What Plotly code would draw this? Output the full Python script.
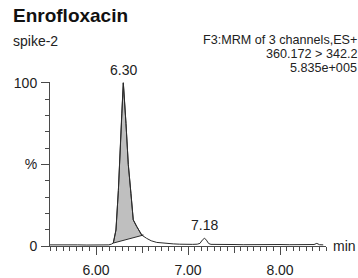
import plotly.graph_objects as go

# ---- data ----
# main chromatogram trace: retention time (min) and relative intensity (%)
time_min = [5.50, 5.60, 5.70, 5.80, 5.90, 6.00, 6.08, 6.14, 6.17, 6.188,
            6.217, 6.243, 6.28, 6.297, 6.326, 6.351, 6.38, 6.405, 6.442,
            6.497, 6.55, 6.60, 6.66, 6.72, 6.77, 6.84, 6.91, 6.98, 7.05,
            7.10, 7.13, 7.155, 7.18, 7.20, 7.225, 7.25, 7.30, 7.40, 7.50,
            7.60, 7.70, 7.80, 7.90, 8.00, 8.10, 8.20, 8.30, 8.37, 8.40,
            8.43, 8.47]
intensity = [0.7, 0.8, 0.6, 0.7, 0.6, 0.7, 0.6, 0.7, 1.2, 1.8,
             9.8, 34, 81, 100, 75, 50, 32, 16, 12,
             6.7, 4.7, 3.2, 2.2, 1.8, 1.6, 1.3, 1.1, 0.9, 1.0,
             1.1, 1.6, 3.6, 4.8, 3.6, 1.5, 1.0, 0.9, 0.8, 0.9,
             0.8, 0.9, 0.8, 0.8, 0.9, 0.8, 0.9, 0.8, 0.9, 1.6,
             0.8, 0.7]

# integrated peak area (6.30) and its drop baseline
area_start, area_end = 6.188, 6.514
area_base_y = [1.8, 6.7]

peak_labels = ["6.30", "7.18"]
peak_times = [6.297, 7.18]

x_tickvals = [6.0, 7.0, 8.0]
x_ticktext = ["6.00", "7.00", "8.00"]
x_midticks = [6.5, 7.5]
y_tickvals = [0, 50, 100]
y_ticktext = ["0", "%", "100"]

title_text = "Enrofloxacin"
sample_text = "spike-2"
info_lines = ["F3:MRM of 3 channels,ES+", "360.172 > 342.2", "5.835e+005"]

# ---- figure ----
FONT = "Liberation Sans, Arial, sans-serif"
LINE = "#2b2b2b"
AX = "#4a4a4a"

W, H = 358, 278
PL, PR, PT, PB = 50, 326, 82, 246          # plot rect in pixels

fig = go.Figure()

area_x = [t for t in time_min if area_start <= t <= area_end]
area_y = [v for t, v in zip(time_min, intensity) if area_start <= t <= area_end]
poly_x = area_x + [area_end, area_start]
poly_y = area_y + [area_base_y[1], area_base_y[0]]
fig.add_trace(go.Scatter(x=poly_x, y=poly_y, mode="lines", fill="toself",
                         fillcolor="#bfbfbf", line=dict(color=LINE, width=1),
                         hoverinfo="skip", showlegend=False))
fig.add_trace(go.Scatter(x=time_min, y=intensity, mode="lines",
                         line=dict(color=LINE, width=1), showlegend=False))

# medium ticks at half minutes on an overlay axis
fig.add_trace(go.Scatter(x=x_midticks, y=[None, None], xaxis="x2",
                         mode="lines", showlegend=False, hoverinfo="skip"))

fig.update_layout(
    width=W, height=H,
    margin=dict(l=PL, r=W - PR, t=PT, b=H - PB, autoexpand=False),
    paper_bgcolor="white", plot_bgcolor="white",
    font=dict(family=FONT, size=14, color="#222222"),
    xaxis=dict(range=[5.5, 8.5], showgrid=False, zeroline=False,
               showline=True, linecolor=AX, linewidth=1, automargin=False,
               tickmode="array", tickvals=x_tickvals, ticktext=x_ticktext,
               ticks="outside", ticklen=8, tickcolor=AX, tickwidth=1,
               ticklabelstandoff=3,
               minor=dict(dtick=0.5 / 7, tick0=5.5, ticks="outside",
                          ticklen=4, tickcolor=AX, tickwidth=1, showgrid=False)),
    xaxis2=dict(range=[5.5, 8.5], overlaying="x", side="bottom",
                showgrid=False, zeroline=False, showline=False, automargin=False,
                tickmode="array", tickvals=x_midticks, ticktext=["", ""],
                ticks="outside", ticklen=6, tickcolor=AX, tickwidth=1),
    yaxis=dict(range=[0, 100.5], showgrid=False, zeroline=False,
               showline=True, linecolor=AX, linewidth=1, automargin=False,
               tickmode="array", tickvals=y_tickvals, ticktext=y_ticktext,
               ticks="outside", ticklen=8, tickcolor=AX, tickwidth=1,
               ticklabelstandoff=1,
               minor=dict(dtick=10, tick0=0, ticks="outside", ticklen=4,
                          tickcolor=AX, tickwidth=1, showgrid=False)),
)

def px_x(px):
    return (px - PL) / float(PR - PL)

def px_y(py):
    return (PB - py) / float(PB - PT)

ann = []
ann.append(dict(text="<b>" + title_text + "</b>", x=px_x(11), y=px_y(15),
                xref="paper", yref="paper", xanchor="left", yanchor="middle",
                showarrow=False, font=dict(size=19, family=FONT, color="#111111")))
ann.append(dict(text=sample_text, x=px_x(11), y=px_y(41),
                xref="paper", yref="paper", xanchor="left", yanchor="middle",
                showarrow=False, font=dict(size=14, family=FONT)))
for i, line in enumerate(info_lines):
    ann.append(dict(text=line, x=px_x(358), y=px_y(40 + 14 * i),
                    xref="paper", yref="paper", xanchor="right", yanchor="middle",
                    borderpad=0, showarrow=False,
                    font=dict(size=12.6, family=FONT)))
for lab, t in zip(peak_labels, peak_times):
    v = max(val for tt, val in zip(time_min, intensity) if abs(tt - t) < 0.03)
    ann.append(dict(text=lab, x=t, y=v, xref="x", yref="y",
                    xanchor="center", yanchor="bottom", yshift=3,
                    showarrow=False, font=dict(size=14, family=FONT)))
ann.append(dict(text="min", x=px_x(331), y=0, xref="paper", yref="y",
                xanchor="left", yanchor="middle", showarrow=False,
                font=dict(size=14, family=FONT)))
fig.update_layout(annotations=ann)

fig.write_html(
    "out.html",
    config={"displayModeBar": False, "staticPlot": True},
    post_script="document.body.style.margin='0';"
                "document.body.style.overflow='hidden';",
)
